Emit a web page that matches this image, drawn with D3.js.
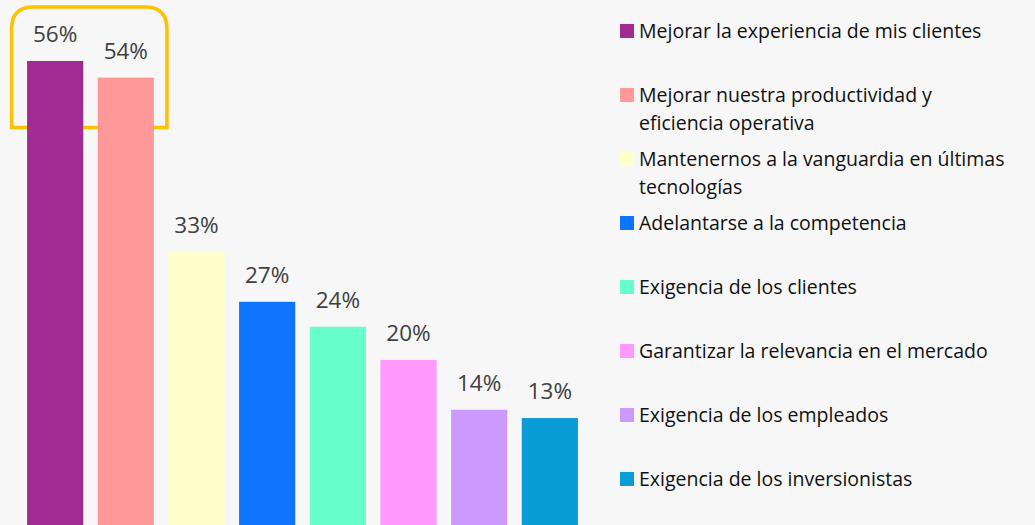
<!DOCTYPE html>
<html>
<head>
<meta charset="utf-8">
<script src="https://cdn.jsdelivr.net/npm/d3@7"></script>
<style>
  html, body { margin: 0; padding: 0; background: #f7f7f7; }
  svg { display: block; font-family: "Open Sans", "DejaVu Sans", sans-serif; }
</style>
</head>
<body>
<svg id="chart"></svg>
<script>
// data
const categories = [
    "Mejorar la experiencia de mis clientes",
    "Mejorar nuestra productividad y\neficiencia operativa",
    "Mantenernos a la vanguardia en últimas\ntecnologías",
    "Adelantarse a la competencia",
    "Exigencia de los clientes",
    "Garantizar la relevancia en el mercado",
    "Exigencia de los empleados",
    "Exigencia de los inversionistas"
];
const values = [56, 54, 33, 27, 24, 20, 14, 13];
const colors = ["#a02b93", "#ff9999", "#ffffcc", "#0f75ff", "#66ffcc", "#ff99ff", "#cc99ff", "#0a9cd5"];

const width = 1035, height = 525;

const svg = d3.select("#chart")
    .attr("width", width)
    .attr("height", height);

svg.append("rect")
    .attr("width", width)
    .attr("height", height)
    .attr("fill", "#f7f7f7");

const x = d3.scaleBand()
    .domain(d3.range(values.length))
    .range([20, 585])
    .paddingInner(0.205)
    .paddingOuter(0.1);

const y = d3.scaleLinear()
    .domain([0, 56])
    .range([526, 61]);

// highlight box round the first two bars
const bx0 = x(0) - 15.5, bx1 = x(1) + x.bandwidth() + 13;
const by0 = 7, by1 = 127.5, r = 22;
svg.append("path")
    .attr("d", `M ${bx0} ${by1} L ${bx0} ${by0 + r} Q ${bx0} ${by0} ${bx0 + r} ${by0}
                L ${bx1 - r} ${by0} Q ${bx1} ${by0} ${bx1} ${by0 + r} L ${bx1} ${by1} Z`)
    .attr("fill", "none")
    .attr("stroke", "#ffc000")
    .attr("stroke-width", 3.5);

svg.selectAll(".bar")
    .data(values)
    .enter().append("rect")
    .attr("class", "bar")
    .attr("x", (d, i) => x(i))
    .attr("y", d => y(d))
    .attr("width", x.bandwidth())
    .attr("height", d => y(0) - y(d))
    .attr("fill", (d, i) => colors[i]);

svg.selectAll(".val")
    .data(values)
    .enter().append("text")
    .attr("class", "val")
    .attr("x", (d, i) => x(i) + x.bandwidth() / 2)
    .attr("y", d => y(d) - 19)
    .attr("text-anchor", "middle")
    .attr("font-size", "22.5px")
    .attr("fill", "#404040")
    .text(d => d + "%");

// legend
const legend = svg.append("g")
    .attr("transform", "translate(620, 31)");

const items = legend.selectAll(".item")
    .data(categories)
    .enter().append("g")
    .attr("class", "item")
    .attr("transform", (d, i) => `translate(0, ${i * 64})`);

items.append("rect")
    .attr("x", 0)
    .attr("y", -7)
    .attr("width", 14)
    .attr("height", 14)
    .attr("fill", (d, i) => colors[i]);

items.append("text")
    .attr("x", 19)
    .attr("font-size", "19.5px")
    .attr("fill", "#111")
    .each(function(d) {
        const t = d3.select(this);
        d.split("\n").forEach((line, k) => {
            t.append("tspan")
                .attr("x", 19)
                .attr("y", 7 + k * 28)
                .text(line);
        });
    });
</script>
</body>
</html>
